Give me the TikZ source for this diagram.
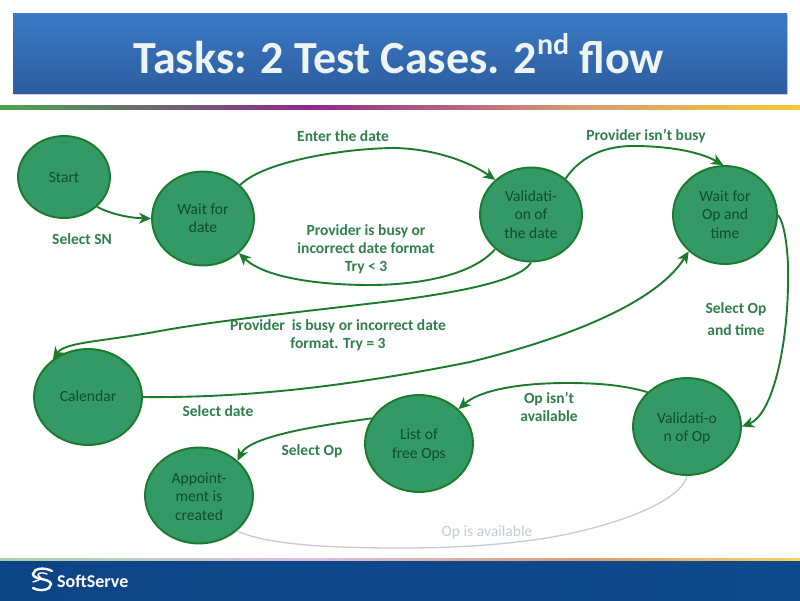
\documentclass[tikz,border=0pt]{standalone}
\usepackage{fontspec}
\setmainfont{Carlito}
\usetikzlibrary{shapes.geometric,arrows.meta}
\definecolor{nodefill}{HTML}{339966}
\definecolor{edgegreen}{HTML}{1B7A2B}
\definecolor{lab}{HTML}{2F7F4A}
\definecolor{ntext}{HTML}{0F4D2C}
\definecolor{pale}{HTML}{C4CAD8}
\definecolor{bannertop}{HTML}{3C7AC6}
\definecolor{bannerbot}{HTML}{2C5C9E}
\definecolor{footblue}{HTML}{0F4A8E}
\definecolor{footdark}{HTML}{0D4486}
\definecolor{rgreen}{HTML}{4CA64F}
\definecolor{rpurple}{HTML}{8E2A8E}
\definecolor{ryellow}{HTML}{F2C832}
\definecolor{rtan}{HTML}{D8A070}
\definecolor{titletext}{HTML}{EDF4F4}
\newcommand{\lowered}[2]{\raisebox{-#1pt}[\height][\depth]{\begin{tabular}{@{}c@{}}#2\end{tabular}}}
\tikzset{
  state/.style={ellipse,draw=edgegreen,line width=1.9pt,fill=nodefill,inner sep=0pt,align=center,text=ntext,font=\fontsize{15.6}{18.5}\selectfont},
  conn/.style={draw=edgegreen,line width=1.9pt,-{Stealth[length=12pt,width=11pt,inset=3.5pt]}},
  lbl/.style={text=lab,align=center,font=\fontsize{15.5}{18.2}\selectfont\bfseries,inner sep=0pt},
  paleconn/.style={draw=pale,line width=1.3pt},
}
\begin{document}
\begin{tikzpicture}[x=1pt,y=-1pt]
\useasboundingbox (0,0) rectangle (800,600);
% banner
\fill[black!18] (14,15) rectangle (788,95);
\shade[top color=bannertop,bottom color=bannerbot] (13,13.5) rectangle (787,93);
\node[text=titletext,font=\fontsize{46}{50}\selectfont\bfseries,inner sep=0pt] (title) at (399,53.5) {Tasks: 2 Test Cases. 2\raisebox{0.42em}{\fontsize{30}{30}\selectfont nd} flow};
% rainbow rule
\shade[left color=rgreen,right color=rpurple] (0,105) rectangle (310,109);
\shade[left color=rpurple,right color=rtan] (310,105) rectangle (590,109);
\shade[left color=rtan,right color=ryellow] (590,105) rectangle (800,109);
% footer
\shade[left color=footdark,right color=footblue] (0,559) rectangle (800,600);
\shade[left color=rgreen!50,right color=rpurple!30] (0,558.5) rectangle (310,560);
\shade[left color=rpurple!30,right color=rtan] (310,558.5) rectangle (590,560);
\shade[left color=rtan,right color=ryellow!80] (590,558.5) rectangle (800,560);
% logo
\draw[white,line width=2.4pt,line cap=round] (52,571) .. controls (44,567) and (34,568) .. (33,574) .. controls (33,580) and (50,578) .. (51,584) .. controls (51,590) and (40,592) .. (33,588);
\draw[white,line width=1.4pt,line cap=round] (47,574) .. controls (42,572) and (38,573) .. (38,575) .. controls (40,578) and (45,578) .. (33,582);
\node[text=white,font=\fontsize{18}{20}\selectfont\bfseries,inner sep=0pt,anchor=west] (brand) at (57,581) {SoftServe};
% states
\node[state,minimum width=92pt,minimum height=82pt] (start) at (64,177) {Start};
\node[state,minimum width=102pt,minimum height=94pt] (waitdate) at (203,218.5) {\lowered{1.5}{Wait for\\date}};
\node[state,minimum width=102pt,minimum height=94pt] (valdate) at (531,214.5) {\lowered{1.5}{Validati-\\on of\\the date}};
\node[state,minimum width=104pt,minimum height=98pt] (waitop) at (725,215) {\lowered{1}{Wait for\\Op and\\time}};
\node[state,minimum width=108pt,minimum height=96pt] (calendar) at (88,397) {\lowered{1}{Calendar}};
\node[state,minimum width=108pt,minimum height=96pt] (appt) at (199,495.5) {\lowered{2.5}{Appoint-\\ment is\\created}};
\node[state,minimum width=108pt,minimum height=97pt] (list) at (419,443.5) {\lowered{2}{List of\\free Ops}};
\node[state,minimum width=108pt,minimum height=97pt] (valop) at (687,426.5) {\lowered{2.5}{Validati-o\\n of Op}};
% connectors
\draw[conn] (start.-42) .. controls (110,214) and (130,218) .. (waitdate.180);
\draw[conn] (waitdate.42) .. controls (265,160) and (350,148) .. (395,148) .. controls (435,149) and (470,162) .. (valdate.136);
\draw[conn] (valdate.46) .. controls (578,160) and (600,146) .. (633,146) .. controls (670,146) and (700,152) .. (waitop.92);
\draw[conn] (valdate.-136) .. controls (470,278) and (410,285) .. (370,285) .. controls (320,285) and (265,278) .. (waitdate.-44);
\draw[conn] (valdate.-90) .. controls (520,282) and (450,293) .. (400,300) .. controls (310,311) and (220,320) .. (160,331) .. controls (100,342) and (65,342) .. (calendar.133);
\draw[conn] (calendar.0) .. controls (240,398) and (340,388) .. (470,362) .. controls (560,340) and (655,305) .. (waitop.-135);
\draw[conn] (waitop.0) .. controls (786,225) and (789,260) .. (788,285) .. controls (787,350) and (772,415) .. (valop.0);
\draw[conn] (valop.139) .. controls (620,384) and (590,383) .. (567,383) .. controls (520,383) and (480,390) .. (list.41);
\draw[conn] (list.152) .. controls (330,424) and (250,435) .. (appt.42);
\draw[paleconn] (valop.-90) .. controls (680,505) and (600,530) .. (540,539) .. controls (480,548) and (420,548) .. (400,548) .. controls (340,548) and (270,546) .. (appt.-43);
% labels
\node[lbl] (l1) at (343,136) {Enter the date};
\node[lbl] (l2) at (646,136) {Provider isn’t busy};
\node[lbl] (l3) at (82,239.5) {Select SN};
\node[lbl] (l4) at (366,249.5) {Provider is busy or\\incorrect date format\\Try < 3};
\node[lbl] (l5) at (338,335.5) {Provider\ \ is busy or incorrect date\\format. Try = 3};
\node[lbl,font=\fontsize{15.5}{21.5}\selectfont\bfseries] (l6) at (736,319) {Select Op\\and time};
\node[lbl] (l7) at (218,411) {Select date};
\node[lbl] (l8) at (549,407) {Op isn’t\\available};
\node[lbl] (l9) at (312,451) {Select Op};
\node[lbl,text=pale,font=\fontsize{15.6}{18}\selectfont] (l10) at (487,532.5) {Op is available};
\end{tikzpicture}
\end{document}
